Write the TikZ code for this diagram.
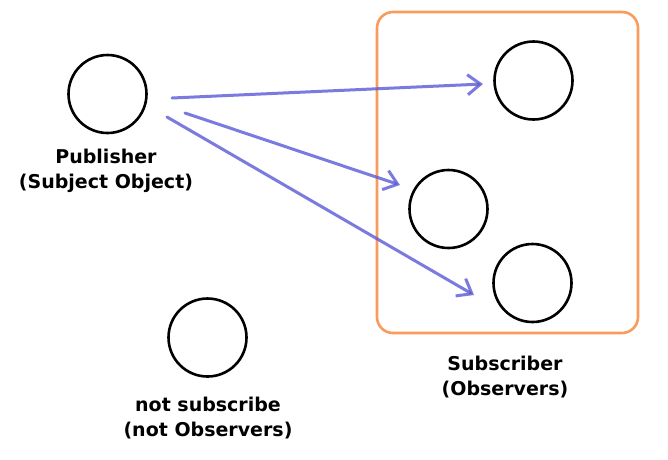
\documentclass[tikz,border=0pt]{standalone}
\usepackage{fontspec}
\setmainfont{DejaVu Sans}
\usetikzlibrary{arrows.meta}
\definecolor{arrowblue}{RGB}{90,90,215}
\definecolor{boxorange}{RGB}{250,145,75}
\tikzset{
  obj/.style={circle,draw=black,line width=2.6pt,minimum size=78pt,inner sep=0pt},
  lbl/.style={font=\bfseries\fontsize{19}{25}\selectfont,align=center,text=black},
  msg/.style={draw=arrowblue,line width=3pt,draw opacity=0.8,line cap=round,
    -{Straight Barb[length=13pt,width=20pt,line width=3pt]}},
  grp/.style={draw=boxorange,line width=2.6pt,rounded corners=16pt,draw opacity=0.9}
}
\begin{document}
\begin{tikzpicture}[x=1pt,y=-1pt]
\useasboundingbox (0,0) rectangle (668,459);
\fill[white] (0,0) rectangle (668,459);
\node[obj] (pub) at (107.5,94) {};
\node[obj] (s1) at (533.5,80.5) {};
\node[obj] (s2) at (448.5,209) {};
\node[obj] (s3) at (532.5,283) {};
\node[obj] (ns) at (207.5,337.5) {};
\node[grp,minimum width=261pt,minimum height=321pt,inner sep=0pt] (grpbox) at (507.5,172.5) {};
\node[lbl] (publbl) at (106,171) {Publisher\\(Subject Object)};
\node[lbl] (nslbl) at (208,418) {not subscribe\\(not Observers)};
\node[lbl] (sublbl) at (505,377) {Subscriber\\(Observers)};
\coordinate (a1s) at (172,98);
\coordinate (a1e) at (483,84);
\coordinate (a2s) at (185,113);
\coordinate (a2e) at (400,185);
\coordinate (a3s) at (167,117);
\coordinate (a3e) at (474,295);
\draw[msg] (a1s) -- (a1e);
\draw[msg] (a2s) -- (a2e);
\draw[msg] (a3s) -- (a3e);
\end{tikzpicture}
\end{document}
